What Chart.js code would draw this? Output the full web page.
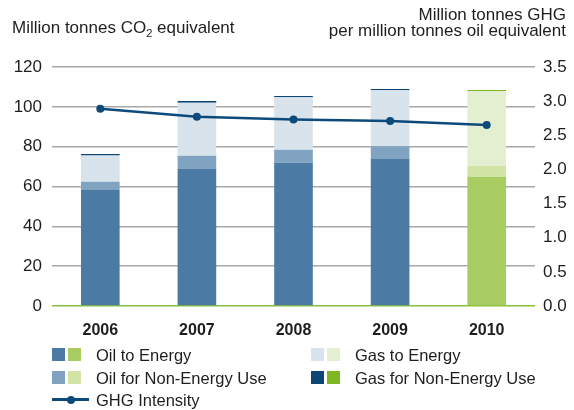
<!DOCTYPE html>
<html>
<head>
<meta charset="utf-8">
<script src="https://cdn.jsdelivr.net/npm/chart.js@4.4.0/dist/chart.umd.min.js"></script>
<style>
  html, body { margin: 0; padding: 0; background: #ffffff; }
  #wrap { position: relative; width: 574px; height: 410px; font-family: "Liberation Sans", Arial, sans-serif; color: #1e1e1e; }
  canvas { position: absolute; left: 0; top: 0; }
  .title { position: absolute; font-size: 17px; line-height: 16px; white-space: nowrap; }
  .legend-row { position: absolute; height: 16px; font-size: 16.5px; line-height: 16px; white-space: nowrap; }
  .sw { position: absolute; top: 1px; width: 13px; height: 13px; }
  .lbl { position: absolute; top: 0; }
</style>
</head>
<body>
<div id="wrap">
  <canvas id="chart" width="574" height="410"></canvas>
  <div class="title" style="left:12px; top:20px;">Million tonnes CO<sub style="font-size:11px; line-height:0;">2</sub> equivalent</div>
  <div class="title" style="right:8px; top:7px; text-align:right;">Million tonnes GHG<br>per million tonnes oil equivalent</div>
  <div id="legend"></div>
</div>
<script>
// Emissions by category, million tonnes CO2 equivalent
const years = ['2006', '2007', '2008', '2009', '2010'];
const oilToEnergy = [58.2, 69.1, 71.9, 74.1, 64.9];
const oilNonEnergy = [4.2, 6.4, 6.6, 6.1, 5.5];
const gasToEnergy = [13.2, 26.5, 26.3, 28.1, 37.5];
const gasNonEnergy = [0.7, 0.9, 0.6, 0.6, 0.5];
// GHG intensity, million tonnes GHG per million tonnes oil equivalent
const ghgIntensity = [2.89, 2.77, 2.73, 2.71, 2.65];

const leftTicks = { min: 0, max: 120, step: 20 };
const rightTicks = { min: 0, max: 3.5, step: 0.5 };

// blue shades for past years, green shades for the latest year
const palette = {
  oilToEnergy:  ['#4b7ba4', '#a9cc62'],
  oilNonEnergy: ['#7fa3c0', '#d1e4a5'],
  gasToEnergy:  ['#d8e3ec', '#e4efd2'],
  gasNonEnergy: ['#0b4677', '#7db823']
};
const lineColor = '#0d4a7c';
const lastIdx = years.length - 1;
const colorsFor = pair => years.map((_, i) => i === lastIdx ? pair[1] : pair[0]);

const barDefaults = {
  type: 'bar',
  stack: 'emissions',
  yAxisID: 'y',
  borderWidth: 0,
  barPercentage: 0.4,
  categoryPercentage: 1.0,
  order: 1
};

const FONT = '"Liberation Sans", Arial, sans-serif';

new Chart(document.getElementById('chart'), {
  data: {
    labels: years,
    datasets: [
      { ...barDefaults, label: 'Oil to Energy', data: oilToEnergy, backgroundColor: colorsFor(palette.oilToEnergy) },
      { ...barDefaults, label: 'Oil for Non-Energy Use', data: oilNonEnergy, backgroundColor: colorsFor(palette.oilNonEnergy) },
      { ...barDefaults, label: 'Gas to Energy', data: gasToEnergy, backgroundColor: colorsFor(palette.gasToEnergy) },
      { ...barDefaults, label: 'Gas for Non-Energy Use', data: gasNonEnergy, backgroundColor: colorsFor(palette.gasNonEnergy) },
      {
        type: 'line',
        label: 'GHG Intensity',
        data: ghgIntensity,
        yAxisID: 'y1',
        borderColor: lineColor,
        backgroundColor: lineColor,
        borderWidth: 2.5,
        pointRadius: 4,
        pointBackgroundColor: lineColor,
        pointBorderWidth: 0,
        tension: 0,
        order: 0
      }
    ]
  },
  options: {
    responsive: false,
    animation: false,
    devicePixelRatio: 1,
    layout: { padding: { top: 67, left: 0, right: 0, bottom: 0 } },
    plugins: { legend: { display: false }, tooltip: { enabled: false } },
    scales: {
      x: {
        stacked: true,
        grid: { display: false },
        border: { display: false },
        ticks: { color: '#1e1e1e', font: { family: FONT, size: 16, weight: 'bold' }, padding: 7 },
        afterFit: s => { s.height = 104; }
      },
      y: {
        stacked: true,
        position: 'left',
        min: leftTicks.min,
        max: leftTicks.max,
        border: { display: false },
        grid: {
          drawTicks: false,
          lineWidth: 1.5,
          color: c => (c.tick && c.tick.value === 0) ? '#86c13a' : '#a8a8a8'
        },
        ticks: { stepSize: leftTicks.step, color: '#1e1e1e', font: { family: FONT, size: 17 }, padding: 10 },
        afterFit: s => { s.width = 52; }
      },
      y1: {
        position: 'right',
        min: rightTicks.min,
        max: rightTicks.max,
        border: { display: false },
        grid: { display: false, drawTicks: false },
        ticks: {
          stepSize: rightTicks.step,
          color: '#1e1e1e',
          font: { family: FONT, size: 17 },
          padding: 8,
          callback: v => Number(v).toFixed(1)
        },
        afterFit: s => { s.width = 39; }
      }
    }
  }
});

// legend with paired swatches (past years / latest year)
const legendItems = [
  { text: 'Oil to Energy', colors: palette.oilToEnergy, x: 52, y: 347 },
  { text: 'Gas to Energy', colors: palette.gasToEnergy, x: 311, y: 347 },
  { text: 'Oil for Non-Energy Use', colors: palette.oilNonEnergy, x: 52, y: 370 },
  { text: 'Gas for Non-Energy Use', colors: palette.gasNonEnergy, x: 311, y: 370 },
  { text: 'GHG Intensity', line: true, x: 52, y: 392 }
];
const legend = document.getElementById('legend');
legendItems.forEach(item => {
  const row = document.createElement('div');
  row.className = 'legend-row';
  row.style.left = item.x + 'px';
  row.style.top = item.y + 'px';
  if (item.line) {
    row.innerHTML =
      '<div style="position:absolute;left:0;top:6px;width:37px;height:3px;background:' + lineColor + '"></div>' +
      '<div style="position:absolute;left:15px;top:3.5px;width:8px;height:8px;border-radius:50%;background:' + lineColor + '"></div>';
  } else {
    row.innerHTML =
      '<div class="sw" style="left:0;background:' + item.colors[0] + '"></div>' +
      '<div class="sw" style="left:16px;background:' + item.colors[1] + '"></div>';
  }
  const lbl = document.createElement('div');
  lbl.className = 'lbl';
  lbl.style.left = '44px';
  lbl.textContent = item.text;
  row.appendChild(lbl);
  legend.appendChild(row);
});
</script>
</body>
</html>
